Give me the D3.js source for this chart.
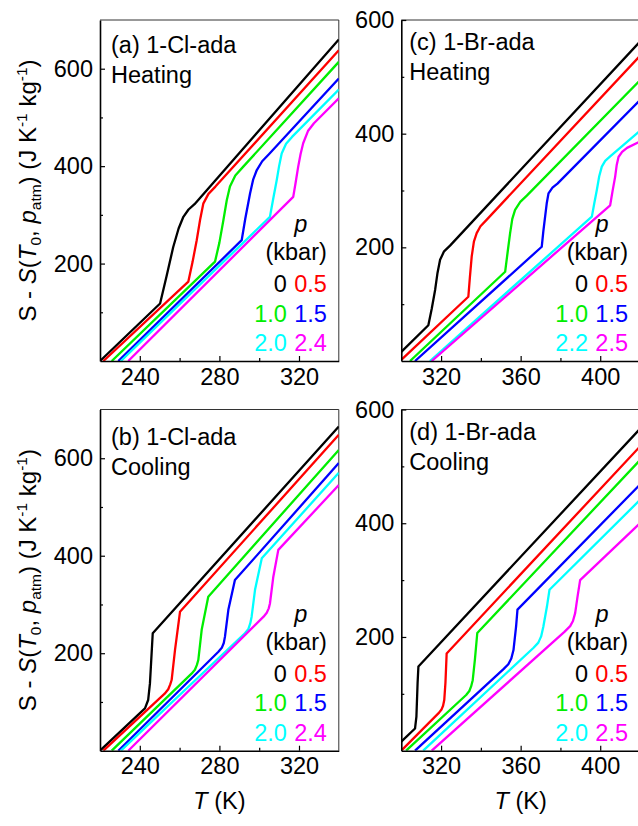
<!DOCTYPE html>
<html>
<head>
<meta charset="utf-8">
<script src="https://cdn.jsdelivr.net/npm/d3@7"></script>
<style>
  body { margin: 0; background: #fff; }
  text { font-family: "Liberation Sans", Arial, sans-serif; fill: #000; }
</style>
</head>
<body>
<svg width="638" height="826"></svg>
<script>
// S - S(T0, patm) vs T for 1-Cl-ada and 1-Br-ada at several pressures

//line colour per pressure, same order in every panel
var lineColours = ["#000000", "#ff0000", "#00ee00", "#0000ff", "#00ffff", "#ff00ff"];

//pressure labels (kbar)
var clPressures = ["0", "0.5", "1.0", "1.5", "2.0", "2.4"];
var brHeatPressures = ["0", "0.5", "1.0", "1.5", "2.2", "2.5"];
var brCoolPressures = ["0", "0.5", "1.0", "1.5", "2.0", "2.5"];

//tick values
var clTicksT = [240, 280, 320], clMinorT = [260, 300];
var brTicksT = [320, 360, 400], brMinorT = [340, 380];
var clTicksS = [200, 400, 600], clMinorS = [100, 300, 500];
var brTicksS = [200, 400, 600], brMinorS = [100, 300, 500];

//curves, [T (K), S (J/K/kg)]
var clHeating = [
  [[220, 0], [250.2, 118], [253.5, 175], [256.8, 234], [259.5, 272], [261.9, 296], [264.5, 311], [267.5, 322], [340, 660]],
  [[221.7, 0], [264.4, 163], [266.5, 203], [268.6, 248], [270.3, 290], [271.9, 323], [274.5, 343], [278, 358], [340, 638]],
  [[225.9, 0], [277.8, 204], [280, 243], [282, 289], [283.7, 330], [285.3, 358], [288, 381], [292, 399], [340, 614]],
  [[229.2, 0], [291.2, 248], [293, 292], [295.4, 344], [297, 373], [298.8, 392], [301.5, 410], [305, 425], [340, 580]],
  [[230.5, 0], [305.4, 296], [307, 332], [308.8, 371], [310, 400], [311.3, 426], [313.5, 446], [316.5, 460], [340, 557]],
  [[234.2, 0], [317.1, 337], [318.3, 366], [319.6, 399], [320.8, 425], [322.1, 447], [324.5, 472], [327.5, 488], [340, 539]]
];

var clCooling = [
  [[220, 0], [242.6, 87], [244.2, 104], [245.1, 138], [246.5, 241], [340, 665]],
  [[221.7, 0], [252.5, 117], [254.3, 126], [255.3, 136], [256, 145], [257.7, 207], [260.2, 285], [340, 648]],
  [[225.9, 0], [266, 158], [267.7, 166], [268.7, 176], [269.4, 186], [271.1, 248], [274.4, 316], [340, 617]],
  [[229.2, 0], [279.5, 203], [281.2, 211], [282.2, 221], [282.8, 234], [284.5, 289], [287.8, 350], [340, 590]],
  [[230.5, 0], [292.8, 241], [294.5, 249], [295.5, 261], [296.2, 275], [297.9, 330], [301.3, 395], [340, 570]],
  [[234.2, 0], [302.2, 275], [303.8, 283], [304.8, 292], [305.4, 302], [307.1, 357], [309.6, 412], [340, 545]]
];

var brHeating = [
  [[300, 16], [313.6, 63], [315.3, 92], [317, 125], [318.2, 155], [319.5, 178], [321.5, 193], [324.5, 203], [420, 562]],
  [[300, 2], [333.7, 113], [334.5, 148], [335.4, 184], [336.5, 210], [337.9, 225], [339.8, 237], [342.5, 247], [420, 537]],
  [[304.4, 0], [352.2, 157], [353.4, 190], [354.7, 225], [355.8, 250], [357.2, 266], [359.8, 280], [363.1, 291], [420, 494]],
  [[306.9, 0], [370.6, 201], [371.4, 228], [372.3, 254], [373.1, 277], [374, 295], [376, 305], [378.5, 312], [420, 459]],
  [[314.4, 0], [395.8, 254], [397, 277], [398.3, 301], [399.5, 325], [400.8, 342], [402.5, 352], [405, 360], [420, 405]],
  [[315.3, 0], [405, 274], [406.2, 299], [407.5, 324], [408.3, 345], [409.2, 359], [411, 368], [413.5, 375], [420, 386]]
];

var brCooling = [
  [[300, 16], [306.9, 39], [307.6, 60], [308.2, 120], [308.6, 148], [420, 566]],
  [[300, 0], [319, 67], [320.3, 73], [321, 79], [321.6, 89], [322.2, 120], [322.8, 171], [420, 535]],
  [[302.4, 0], [332.6, 98], [334.2, 105], [335.1, 113], [335.9, 124], [337, 160], [338.2, 207], [420, 511]],
  [[306.9, 0], [351.5, 144], [353.8, 152], [355.3, 162], [356.4, 177], [357.7, 218], [358.4, 248], [420, 468]],
  [[311, 0], [366.5, 181], [368.9, 190], [370.3, 201], [371.4, 218], [373.2, 253], [374.5, 283], [420, 441]],
  [[315.3, 0], [382, 209], [384.9, 219], [386.3, 228], [387.4, 242], [388.6, 271], [389.9, 300], [420, 400]]
];

//panel layout
var panels = [
  { x0: 100, x1: 338.8, y0: 20, y1: 361, tDomain: [220, 340], sDomain: [0, 700],
    tTicks: clTicksT, tMinor: clMinorT, sTicks: clTicksS, sMinor: clMinorS,
    curves: clHeating, pressures: clPressures, title: ["(a) 1-Cl-ada", "Heating"],
    titleDx: 11, titleDy: 33, yTitle: true, xTitle: false },
  { x0: 100, x1: 338.8, y0: 409.5, y1: 750.7, tDomain: [220, 340], sDomain: [0, 700],
    tTicks: clTicksT, tMinor: clMinorT, sTicks: clTicksS, sMinor: clMinorS,
    curves: clCooling, pressures: clPressures, title: ["(b) 1-Cl-ada", "Cooling"],
    titleDx: 11, titleDy: 35.5, yTitle: true, xTitle: true },
  { x0: 401.3, x1: 640, y0: 20, y1: 361, tDomain: [300, 420], sDomain: [0, 600],
    tTicks: brTicksT, tMinor: brMinorT, sTicks: brTicksS, sMinor: brMinorS,
    curves: brHeating, pressures: brHeatPressures, title: ["(c) 1-Br-ada", "Heating"],
    titleDx: 8, titleDy: 30, yTitle: false, xTitle: false },
  { x0: 401.3, x1: 640, y0: 409.5, y1: 750.7, tDomain: [300, 420], sDomain: [0, 600],
    tTicks: brTicksT, tMinor: brMinorT, sTicks: brTicksS, sMinor: brMinorS,
    curves: brCooling, pressures: brCoolPressures, title: ["(d) 1-Br-ada", "Cooling"],
    titleDx: 8, titleDy: 30, yTitle: false, xTitle: true }
];

var svg = d3.select("svg");
var fontSize = 23.5;

panels.forEach(function(p, i) {
  var x = d3.scaleLinear().domain(p.tDomain).range([p.x0, p.x1]);
  var y = d3.scaleLinear().domain(p.sDomain).range([p.y1, p.y0]);
  var g = svg.append("g");

  //clip so the curves stay inside the frame
  var clipId = "clip" + i;
  g.append("clipPath").attr("id", clipId)
    .append("rect")
    .attr("x", p.x0).attr("y", p.y0)
    .attr("width", p.x1 - p.x0).attr("height", p.y1 - p.y0);

  //thin frame on top and right
  g.append("path")
    .attr("d", "M" + p.x0 + "," + p.y0 + "H" + p.x1 + "V" + p.y1)
    .attr("fill", "none")
    .attr("stroke", "#333")
    .attr("stroke-width", 1);

  //curves
  var line = d3.line()
    .x(function(d) { return x(d[0]); })
    .y(function(d) { return y(d[1]); });

  g.append("g")
    .attr("clip-path", "url(#" + clipId + ")")
    .selectAll("path")
    .data(p.curves)
    .enter()
    .append("path")
    .attr("d", line)
    .attr("fill", "none")
    .attr("stroke", function(d, j) { return lineColours[j]; })
    .attr("stroke-width", 2.3)
    .attr("stroke-linejoin", "round");

  //bottom axis, ticks pointing in
  g.append("g")
    .attr("transform", "translate(0," + p.y1 + ")")
    .call(d3.axisBottom(x).tickValues(p.tTicks).tickSizeInner(-5).tickSizeOuter(0).tickPadding(7));
  g.append("g")
    .attr("transform", "translate(0," + p.y1 + ")")
    .call(d3.axisBottom(x).tickValues(p.tMinor).tickFormat("").tickSizeInner(-3).tickSizeOuter(0))
    .select(".domain").remove();

  //left axis
  g.append("g")
    .attr("transform", "translate(" + p.x0 + ",0)")
    .call(d3.axisLeft(y).tickValues(p.sTicks).tickSizeInner(-5).tickSizeOuter(0).tickPadding(7));
  g.append("g")
    .attr("transform", "translate(" + p.x0 + ",0)")
    .call(d3.axisLeft(y).tickValues(p.sMinor).tickFormat("").tickSizeInner(-3).tickSizeOuter(0))
    .select(".domain").remove();

  g.selectAll(".domain").attr("stroke", "#000").attr("stroke-width", 1.6);
  g.selectAll(".tick line").attr("stroke", "#000").attr("stroke-width", 1.2);
  g.selectAll(".tick text")
    .attr("font-size", fontSize)
    .attr("font-family", "Liberation Sans, Arial, sans-serif")
    .attr("fill", "#000");

  //panel title
  var title = g.append("text")
    .attr("font-size", fontSize)
    .attr("x", p.x0 + p.titleDx)
    .attr("y", p.y0 + p.titleDy);
  title.append("tspan").text(p.title[0]);
  title.append("tspan").attr("x", p.x0 + p.titleDx).attr("dy", 30).text(p.title[1]);

  //pressure legend
  var right = p.x1;
  g.append("text")
    .attr("font-size", fontSize)
    .attr("font-style", "italic")
    .attr("text-anchor", "middle")
    .attr("x", right - 38)
    .attr("y", p.y0 + 212)
    .text("p");
  g.append("text")
    .attr("font-size", fontSize)
    .attr("text-anchor", "end")
    .attr("x", right - 12)
    .attr("y", p.y0 + 240)
    .text("(kbar)");

  p.pressures.forEach(function(pr, j) {
    var row = Math.floor(j / 2), col = j % 2;
    g.append("text")
      .attr("font-size", fontSize)
      .attr("text-anchor", "end")
      .attr("x", col == 0 ? right - 52 : right - 12)
      .attr("y", p.y0 + 272 + row * 29.5)
      .style("fill", lineColours[j])
      .text(pr);
  });

  //axis titles
  if (p.yTitle) {
    var yt = g.append("text")
      .attr("font-size", 24)
      .attr("text-anchor", "middle")
      .attr("transform", "translate(36," + ((p.y0 + p.y1) / 2) + ") rotate(-90)");
    yt.append("tspan").text("S - ");
    yt.append("tspan").attr("font-style", "italic").text("S");
    yt.append("tspan").text("(");
    yt.append("tspan").attr("font-style", "italic").text("T");
    yt.append("tspan").attr("font-size", 15.5).attr("dy", 5).text("0");
    yt.append("tspan").attr("dy", -5).text(", ");
    yt.append("tspan").attr("font-style", "italic").text("p");
    yt.append("tspan").attr("font-size", 15.5).attr("dy", 5).text("atm");
    yt.append("tspan").attr("dy", -5).text(") (J K");
    yt.append("tspan").attr("font-size", 15.5).attr("dy", -9).text("-1");
    yt.append("tspan").attr("dy", 9).text(" kg");
    yt.append("tspan").attr("font-size", 15.5).attr("dy", -9).text("-1");
    yt.append("tspan").attr("dy", 9).text(")");
  }

  if (p.xTitle) {
    var xt = g.append("text")
      .attr("font-size", fontSize)
      .attr("text-anchor", "middle")
      .attr("x", (p.x0 + p.x1) / 2)
      .attr("y", 809);
    xt.append("tspan").attr("font-style", "italic").text("T");
    xt.append("tspan").text(" (K)");
  }
});
</script>
</body>
</html>
